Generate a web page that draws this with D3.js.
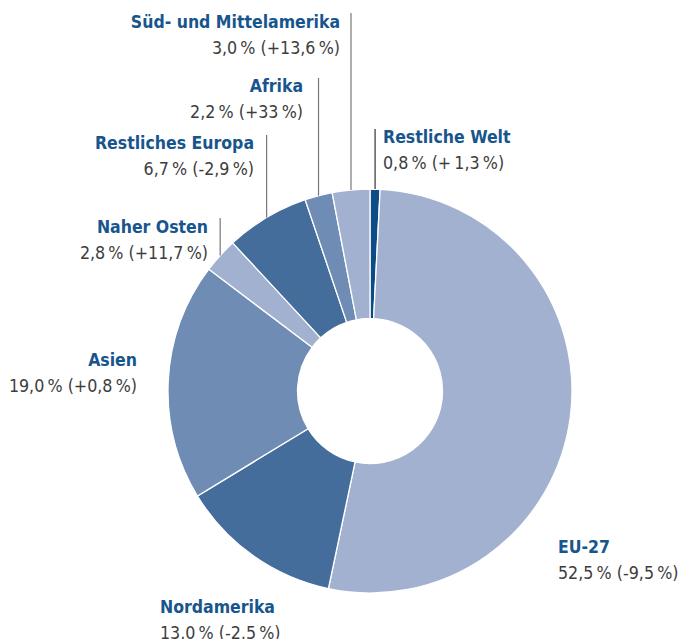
<!DOCTYPE html>
<html>
<head>
<meta charset="utf-8">
<script src="https://cdn.jsdelivr.net/npm/d3@7"></script>
<style>
  body { margin: 0; background: #fff; }
  .name { font-family: "Liberation Sans Narrow", "DejaVu Sans Condensed", "Open Sans", sans-serif; font-weight: bold; fill: #17558d; }
  .val { font-family: "Liberation Sans Narrow", "DejaVu Sans Condensed", "Open Sans", sans-serif; fill: #3d3d3d; }
</style>
</head>
<body>
<svg id="chart"></svg>
<script>
// shares in percent, clockwise from 12 o'clock
const regions = ["Restliche Welt", "EU-27", "Nordamerika", "Asien", "Naher Osten",
                 "Restliches Europa", "Afrika", "Süd- und Mittelamerika"];
const shares  = [0.8, 52.5, 13.0, 19.0, 2.8, 6.7, 2.2, 3.0];
const changes = ["+\u20091,3", "-9,5", "-2,5", "+0,8", "+11,7", "-2,9", "+33", "+13,6"];
const tones   = ["#0b4c86", "#a2b1cf", "#446d9c", "#6f8cb4", "#a2b1cf", "#446d9c", "#6f8cb4", "#a2b1cf"];

// label placement: anchor x, name baseline y, text-anchor, leader top (null = no leader)
const labelPos = [
  {x: 383, y: 143, anchor: "start", lead: 129},
  {x: 558, y: 553, anchor: "start", lead: null},
  {x: 160, y: 613, anchor: "start", lead: null},
  {x: 137, y: 366, anchor: "end",   lead: null},
  {x: 208, y: 233, anchor: "end",   lead: 218},
  {x: 254, y: 149, anchor: "end",   lead: 135},
  {x: 303, y: 92,  anchor: "end",   lead: 78},
  {x: 340, y: 28,  anchor: "end",   lead: 13}
];

const width = 683, height = 639;
const cx = 370, cy = 391, rOuter = 202, rInner = 72.5;

const svg = d3.select("#chart").attr("width", width).attr("height", height);

const data = regions.map((r, i) => ({region: r, share: shares[i], change: changes[i], color: tones[i], pos: labelPos[i]}));

const pie = d3.pie().value(d => d.share).sort(null);
const arcs = pie(data);
const arc = d3.arc().innerRadius(rInner).outerRadius(rOuter);

const g = svg.append("g").attr("transform", `translate(${cx},${cy})`);

g.selectAll("path")
  .data(arcs)
  .join("path")
  .attr("d", arc)
  .attr("fill", d => d.data.color)
  .attr("stroke", "#fff")
  .attr("stroke-width", 1.3);

// leader lines from slice edge straight up
const leaders = arcs.filter(d => d.data.pos.lead !== null);
svg.selectAll("line.lead")
  .data(leaders)
  .join("line")
  .attr("class", "lead")
  .each(function(d) {
    const a = (d.startAngle + d.endAngle) / 2;
    const x = cx + rOuter * Math.sin(a);
    const y = cy - rOuter * Math.cos(a);
    d3.select(this)
      .attr("x1", x).attr("x2", x)
      .attr("y1", y).attr("y2", d.data.pos.lead);
  })
  .attr("stroke", d => d.data.region === "Restliche Welt" ? "#333" : "#777")
  .attr("stroke-width", 1.2);

const fmt = v => d3.format(".1f")(v).replace(".", ",");

const labels = svg.selectAll("g.lab")
  .data(data)
  .join("g")
  .attr("class", "lab");

labels.append("text")
  .attr("class", "name")
  .attr("x", d => d.pos.x)
  .attr("y", d => d.pos.y)
  .attr("text-anchor", d => d.pos.anchor)
  .attr("font-size", 17.5)
  .text(d => d.region);

labels.append("text")
  .attr("class", "val")
  .attr("x", d => d.pos.x)
  .attr("y", d => d.pos.y + 26)
  .attr("text-anchor", d => d.pos.anchor)
  .attr("font-size", 17.7)
  .text(d => `${fmt(d.share)}\u2009% (${d.change}\u2009%)`);
</script>
</body>
</html>
